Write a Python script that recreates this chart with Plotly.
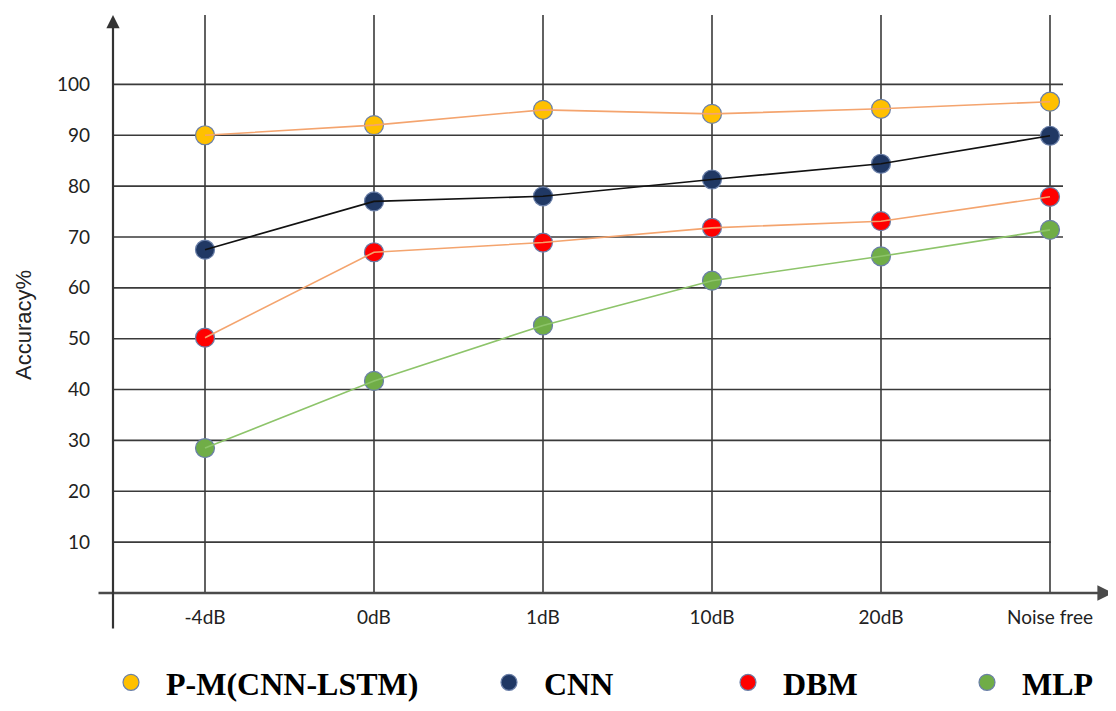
import plotly.graph_objects as go

# ---------------- data ----------------
categories = ["-4dB", "0dB", "1dB", "10dB", "20dB", "Noise free"]
pm_cnn_lstm = [90.0, 92.0, 95.0, 94.2, 95.2, 96.6]
cnn = [67.5, 77.0, 78.0, 81.3, 84.4, 89.9]
dbm = [50.2, 67.0, 68.9, 71.8, 73.1, 77.9]
mlp = [28.5, 41.7, 52.6, 61.4, 66.2, 71.4]
series_names = ["P-M(CNN-LSTM)", "CNN", "DBM", "MLP"]
y_tick_values = [10, 20, 30, 40, 50, 60, 70, 80, 90, 100]
y_tick_labels = ["10", "20", "30", "40", "50", "60", "70", "80", "90", "100"]
y_title = "Accuracy%"

# ---------------- styles ----------------
series_values = [pm_cnn_lstm, cnn, dbm, mlp]
marker_colors = ["#FFC000", "#203864", "#FF0000", "#70AD47"]
line_colors = ["#F4A46E", "#111111", "#F4A46E", "#8DC46A"]
legend_ids = ["legend", "legend2", "legend3", "legend4"]
legend_marker_px = [131, 509, 748, 987]   # screen x of legend symbols

OFF = 8  # page body margin: figure pixel = screen pixel - OFF
W, H = 1116 - OFF, 711 - OFF
L, R, T, B = 113 - OFF, 1063 - OFF, 15 - OFF, 593 - OFF
plot_w, plot_h = R - L, B - T
x_first_px, step_px = 205 - OFF, 169
x_range = [-(x_first_px - L) / step_px, 5 + (R - (x_first_px + 5 * step_px)) / step_px]
px_per_unit = 50.86 / 10
y_range = [0, (B - T) / px_per_unit]


def px_x(sx):
    return (sx - OFF - L) / plot_w


def px_y(sy):
    return (B - (sy - OFF)) / plot_h


fig = go.Figure()

# markers (with legend entries)
for name, vals, mc, lg in zip(series_names, series_values, marker_colors, legend_ids):
    fig.add_trace(go.Scatter(
        x=categories, y=vals, mode="markers", name=name, legend=lg,
        marker=dict(size=19, color=mc, line=dict(color="#6A7FA8", width=1.2)),
        showlegend=True, cliponaxis=False,
    ))
# lines drawn over markers
for name, vals, lc in zip(series_names, series_values, line_colors):
    fig.add_trace(go.Scatter(
        x=categories, y=vals, mode="lines", name=name + " line",
        line=dict(color=lc, width=1.6), showlegend=False, hoverinfo="skip",
    ))

grid_col = "#3A3A3A"
shapes = []
# horizontal gridlines
for v in y_tick_values:
    x_end = 1.0 if v >= 70 else px_x(1051)
    shapes.append(dict(type="line", xref="paper", yref="y", x0=0, x1=x_end, y0=v, y1=v,
                       line=dict(color=grid_col, width=1.6), layer="below"))
# vertical gridlines
for c in categories:
    shapes.append(dict(type="line", xref="x", yref="paper", x0=c, x1=c, y0=0, y1=1,
                       line=dict(color=grid_col, width=1.6), layer="below"))

annotations = []
# x axis with arrow
annotations.append(dict(x=px_x(1113), y=0, xref="paper", yref="paper",
                        ax=-(1113 - 97), ay=0, axref="pixel", ayref="pixel",
                        text="", showarrow=True, arrowhead=2, arrowsize=1.2,
                        arrowwidth=2.6, arrowcolor="#4A4A4A"))
# y axis with arrow
annotations.append(dict(x=0, y=1, xref="paper", yref="paper",
                        ax=0, ay=(630 - 15), axref="pixel", ayref="pixel",
                        text="", showarrow=True, arrowhead=2, arrowsize=1.2,
                        arrowwidth=2.2, arrowcolor="#333333"))
# y axis title
annotations.append(dict(x=px_x(23), y=px_y(325), xref="paper", yref="paper",
                        text=y_title, textangle=-90, showarrow=False,
                        font=dict(family="Liberation Sans", size=22, color="#222222"),
                        xanchor="center", yanchor="middle"))

legend_layouts = {}
for lg, sx in zip(legend_ids, legend_marker_px):
    legend_layouts[lg] = dict(
        x=px_x(sx - 35), y=px_y(710), xref="paper", yref="paper",
        xanchor="left", yanchor="bottom", orientation="h",
        font=dict(family="Liberation Serif", size=32, color="#000000", weight="bold"),
        bgcolor="rgba(0,0,0,0)", borderwidth=0, itemwidth=60,
    )

fig.update_layout(
    width=W, height=H,
    margin=dict(l=L, r=W - R, t=T, b=H - B, pad=0, autoexpand=False),
    paper_bgcolor="white", plot_bgcolor="white",
    xaxis=dict(type="category", range=x_range, showgrid=False, zeroline=False,
               showline=False, ticks="", ticklabelstandoff=11,
               tickfont=dict(family="Lato", size=19, color="#222222")),
    yaxis=dict(range=y_range, tickvals=y_tick_values, ticktext=y_tick_labels,
               showgrid=False, zeroline=False, showline=False, ticks="",
               ticklabelstandoff=22,
               tickfont=dict(family="Lato", size=19, color="#222222")),
    shapes=shapes, annotations=annotations,
    **legend_layouts,
)

fig.write_html("out.html")
